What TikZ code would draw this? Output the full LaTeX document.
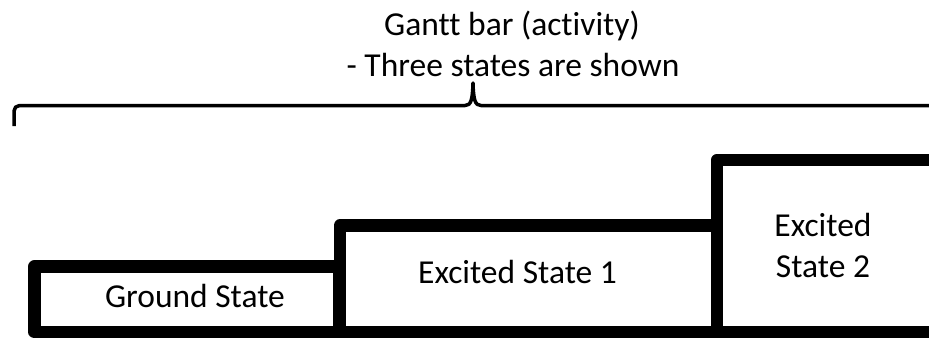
\documentclass[tikz,border=0pt]{standalone}
\usepackage{fontspec}
\setmainfont[Ligatures=NoCommon]{Carlito}
\begin{document}
\begin{tikzpicture}[x=1bp,y=-1bp,
  stateframe/.style={line width=12.5bp, line join=round, black},
  bracestroke/.style={line width=3.5bp, line join=round, line cap=butt, black},
  label/.style={inner sep=0pt, anchor=base, font=\fontsize{33.5bp}{41bp}\selectfont}]
  \useasboundingbox (0,0) rectangle (929,338);
  \clip (0,0) rectangle (929,338);

  % curly brace spanning the whole bar
  \draw[bracestroke] (14,126) -- (14,111) arc[start angle=180, end angle=270, radius=5.5]
    -- (465,105.5) .. controls (471,105.5) and (472.5,100) .. (473,83)
    .. controls (473.5,100) and (475,105.5) .. (481,105.5) -- (940,105.5);

  % caption above the brace
  \node[label] (title1) at (512,35) {Gantt bar (activity)};
  \node[label] (title2) at (513,76) {- Three states are shown};

  % the three state blocks, stepping up to the right
  \draw[stateframe] (339,332) -- (34.5,332) -- (34.5,266.5) -- (339,266.5) -- cycle;
  \draw[stateframe] (717,332) -- (340,332) -- (340,225.5) -- (717,225.5) -- cycle;
  \draw[stateframe] (945,332) -- (717,332) -- (717,160) -- (945,160);

  % state names
  \node[label] (ground) at (195,307) {Ground State};
  \node[label] (exc1) at (517.5,283) {Excited State 1};
  \node[label] (exc2a) at (823,236) {Excited};
  \node[label] (exc2b) at (823,277) {State 2};
\end{tikzpicture}
\end{document}
